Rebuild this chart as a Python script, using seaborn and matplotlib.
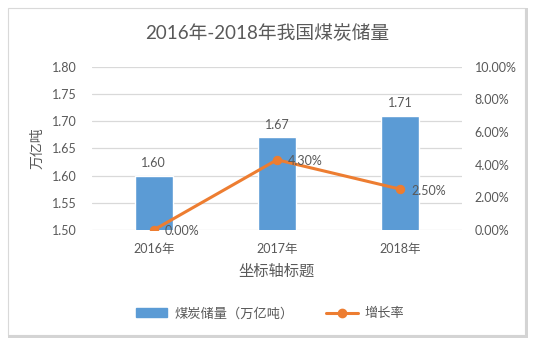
import matplotlib
matplotlib.use("Agg")
import matplotlib.pyplot as plt
import matplotlib.patches as mpatches
from matplotlib.lines import Line2D
from matplotlib.ticker import FuncFormatter, MultipleLocator
import seaborn as sns
import pandas as pd

# Data
years = ["2016年", "2017年", "2018年"]
reserves = [1.60, 1.67, 1.71]          # 万亿吨
growth = [0.00, 4.30, 2.50]            # %

title = "2016年-2018年我国煤炭储量"
x_title = "坐标轴标题"
y_title = "万亿吨"
bar_name = "煤炭储量（万亿吨）"
line_name = "增长率"

BAR_C = "#5B9BD5"
LINE_C = "#ED7D31"
TXT_C = "#595959"
GRID_C = "#D9D9D9"

sns.set_theme(style="white")
plt.rcParams["font.family"] = ["Lato", "Noto Sans CJK SC", "DejaVu Sans"]

df = pd.DataFrame({"year": years, "reserve": reserves, "growth": growth})

W, H = 535, 342
fig = plt.figure(figsize=(W / 100, H / 100), dpi=100)

# frame around the chart area
fig.patches.append(mpatches.Rectangle((8 / W, 1 - 335 / H), 517 / W, 327 / H,
                                      transform=fig.transFigure, fill=False,
                                      edgecolor=GRID_C, linewidth=0.8))
fig.patches.append(mpatches.Rectangle((525 / W, 1 - 338 / H), 3 / W, 330 / H,
                                      transform=fig.transFigure, color="#D4D4D4", lw=0))
fig.patches.append(mpatches.Rectangle((8 / W, 1 - 338 / H), 520 / W, 3 / H,
                                      transform=fig.transFigure, color="#D4D4D4", lw=0))

ax = fig.add_axes([92 / W, 1 - 230 / H, 370 / W, (230 - 66.7) / H])
sns.barplot(data=df, x="year", y="reserve", color=BAR_C, width=0.31,
            saturation=1, ax=ax)
ax.set_ylim(1.50, 1.80)
ax.yaxis.set_major_locator(MultipleLocator(0.05))
ax.yaxis.set_major_formatter(FuncFormatter(lambda v, p: f"{v:.2f}"))
ax.grid(axis="y", color=GRID_C, linewidth=0.9)
ax.set_axisbelow(True)
for s in ax.spines.values():
    s.set_visible(False)
ax.tick_params(axis="both", length=0, labelsize=9, colors=TXT_C)
ax.tick_params(axis="y", pad=11)
ax.tick_params(axis="x", pad=9)
ax.set_xlabel(x_title, fontsize=11, color=TXT_C, labelpad=7)
ax.set_ylabel(y_title, fontsize=10, color=TXT_C, labelpad=6)

for i, v in enumerate(reserves):
    ax.annotate(f"{v:.2f}", (i, v), xytext=(0, 5), textcoords="offset points",
                ha="center", va="bottom", fontsize=9, color=TXT_C)

ax2 = ax.twinx()
sns.lineplot(data=df, x="year", y="growth", color=LINE_C, linewidth=2.2,
             marker="o", markersize=6, markeredgecolor=LINE_C, ax=ax2)
ax2.set_ylim(0, 10)
ax2.yaxis.set_major_locator(MultipleLocator(2))
ax2.yaxis.set_major_formatter(FuncFormatter(lambda v, p: f"{v:.2f}%"))
for s in ax2.spines.values():
    s.set_visible(False)
ax2.tick_params(axis="y", length=0, labelsize=9, colors=TXT_C, pad=9)
ax2.set_ylabel("")
ax2.grid(False)
for i, v in enumerate(growth):
    ax2.annotate(f"{v:.2f}%", (i, v), xytext=(8, -1), textcoords="offset points",
                 ha="left", va="center", fontsize=9, color=TXT_C)

ax.set_xlim(-0.5, 2.5)

fig.text(0.5, 1 - 33 / H, title, ha="center", va="center", fontsize=13.5,
         color=TXT_C)

handles = [mpatches.Patch(color=BAR_C),
           Line2D([0], [0], color=LINE_C, linewidth=2.2, marker="o", markersize=6)]
fig.legend(handles, [bar_name, line_name], loc="center",
           bbox_to_anchor=(270 / W, 1 - 313 / H), ncol=2, frameon=False,
           fontsize=9.5, labelcolor=TXT_C, handlelength=2.4, columnspacing=2.5,
           handletextpad=0.5)

fig.savefig("out.png", dpi=100)
